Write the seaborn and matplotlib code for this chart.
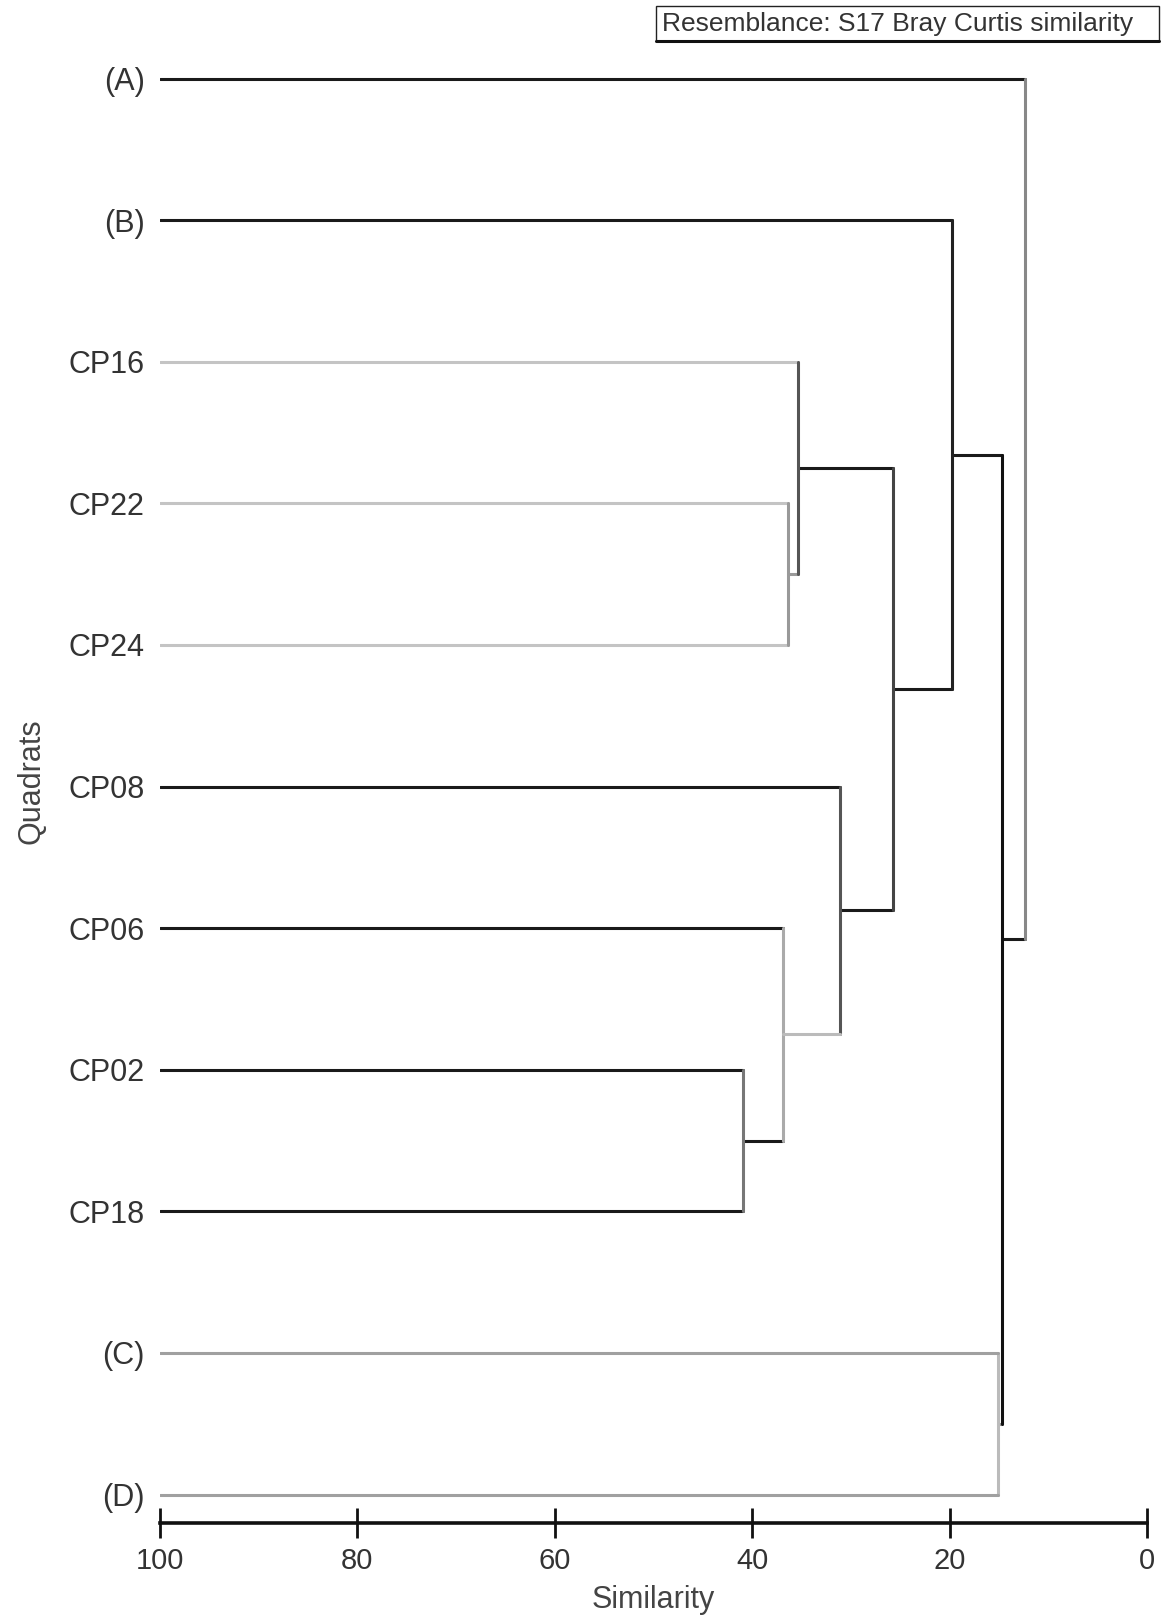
import matplotlib
matplotlib.use("Agg")
import matplotlib.pyplot as plt
from matplotlib.patches import Rectangle
from matplotlib.lines import Line2D
import seaborn as sns
import pandas as pd

# ---------------- data ----------------
leaf_labels = ["(A)", "(B)", "CP16", "CP22", "CP24", "CP08", "CP06", "CP02", "CP18", "(C)", "(D)"]
# colour of each leaf's horizontal stem
leaf_colors = ["#1a1a1a", "#1a1a1a", "#c4c4c4", "#c4c4c4", "#c4c4c4",
               "#1a1a1a", "#1a1a1a", "#1a1a1a", "#1a1a1a", "#a0a0a0", "#a0a0a0"]
# merges: (left child, right child, similarity); nodes 0..10 are leaves, 11.. are merges
merge_left = [7, 6, 3, 2, 5, 14, 1, 9, 17, 0]
merge_right = [8, 11, 4, 13, 12, 15, 16, 10, 18, 19]
merge_sim = [40.9, 36.9, 36.4, 35.4, 31.1, 25.7, 19.8, 15.1, 14.7, 12.4]
merge_vert_colors = ["#777777", "#aaaaaa", "#999999", "#555555", "#555555",
                     "#444444", "#222222", "#bbbbbb", "#111111", "#888888"]
merge_stem_colors = ["#1a1a1a", "#bbbbbb", "#999999", "#1a1a1a", "#1a1a1a",
                     "#1a1a1a", "#1a1a1a", "#999999", "#1a1a1a", None]

x_ticks = [100, 80, 60, 40, 20, 0]
x_tick_labels = ["100", "80", "60", "40", "20", "0"]
legend_text = "Resemblance: S17 Bray Curtis similarity"

# ---------------- build segments from tree ----------------
n_leaf = len(leaf_labels)
node_y = {i: float(i) for i in range(n_leaf)}
node_x = {i: 100.0 for i in range(n_leaf)}
node_color = {i: leaf_colors[i] for i in range(n_leaf)}
for k, (l, r, s) in enumerate(zip(merge_left, merge_right, merge_sim)):
    nid = n_leaf + k
    node_y[nid] = (node_y[l] + node_y[r]) / 2.0
    node_x[nid] = s
    node_color[nid] = merge_stem_colors[k]

rows = []
seg = 0
for k, (l, r, s) in enumerate(zip(merge_left, merge_right, merge_sim)):
    # horizontal stems of the children
    for c in (l, r):
        rows.append(dict(seg=seg, x=node_x[c], y=node_y[c], color=node_color[c]))
        rows.append(dict(seg=seg, x=s, y=node_y[c], color=node_color[c]))
        seg += 1
    # vertical connector
    rows.append(dict(seg=seg, x=s, y=node_y[l], color=merge_vert_colors[k]))
    rows.append(dict(seg=seg, x=s, y=node_y[r], color=merge_vert_colors[k]))
    seg += 1
df = pd.DataFrame(rows)

# ---------------- plot ----------------
sns.set_theme(style="white")
plt.rcParams["font.family"] = ["Liberation Sans", "DejaVu Sans"]

W, H = 1170, 1619
fig = plt.figure(figsize=(W / 100, H / 100), dpi=100)
ax_left, ax_right, ax_top, ax_bottom = 160, 1147, 40, 1523
ax = fig.add_axes([ax_left / W, 1 - ax_bottom / H, (ax_right - ax_left) / W, (ax_bottom - ax_top) / H])

palette = {c: c for c in df["color"].unique()}
sns.lineplot(data=df, x="x", y="y", units="seg", hue="color", palette=palette,
             estimator=None, sort=False, legend=False, linewidth=2.2, ax=ax)

row_px0, row_px_step = 78.5, 141.6
ax.set_xlim(100, 0)
ax.set_ylim(10 + (ax_bottom - (row_px0 + 10 * row_px_step)) / row_px_step,
            -(row_px0 - ax_top) / row_px_step)

for sp in ("top", "right", "left"):
    ax.spines[sp].set_visible(False)
ax.spines["bottom"].set_linewidth(2.6)
ax.spines["bottom"].set_color("#111111")

ax.set_xticks(x_ticks)
ax.set_xticklabels(x_tick_labels, fontsize=21, color="#333333")
ax.tick_params(axis="x", direction="inout", length=22, width=2, color="#111111", pad=6, bottom=True)
ax.set_yticks(range(n_leaf))
ax.set_yticklabels(leaf_labels, fontsize=22, color="#333333")
ax.tick_params(axis="y", length=0, pad=11)

ax.set_xlabel("Similarity", fontsize=22, color="#444444")
ax.xaxis.set_label_coords(0.5, -0.042)
ax.set_ylabel("Quadrats", fontsize=22, color="#444444")
ax.yaxis.set_label_coords(-(ax_left - 46) / (ax_right - ax_left), 0.5)

# resemblance box
bx0, bx1, by0, by1 = 656, 1159, 6, 41
fig.add_artist(Rectangle((bx0 / W, 1 - by1 / H), (bx1 - bx0) / W, (by1 - by0) / H,
                         transform=fig.transFigure, fill=False, edgecolor="#222222", linewidth=1.0))
fig.add_artist(Line2D([bx0 / W, bx1 / W], [1 - by1 / H, 1 - by1 / H],
                      transform=fig.transFigure, color="#111111", linewidth=2.2))
fig.text((bx0 + 6) / W, 1 - (by0 + by1) / 2 / H, legend_text, fontsize=19,
         color="#333333", va="center", ha="left")

fig.savefig("out.png", dpi=100, facecolor="white")
